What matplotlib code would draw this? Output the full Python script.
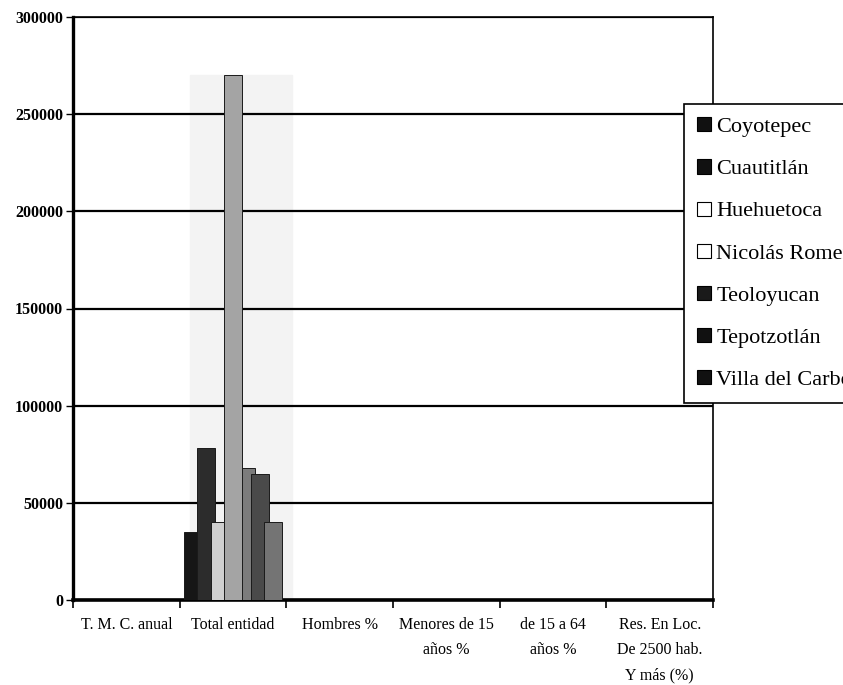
import numpy as np
import matplotlib.pyplot as plt
from matplotlib.patches import Patch

categories = ["T. M. C. anual", "Total entidad", "Hombres %",
              "Menores de 15\naños %", "de 15 a 64\naños %",
              "Res. En Loc.\nDe 2500 hab.\nY más (%)"]
municipios = ["Coyotepec", "Cuautitlán", "Huehuetoca", "Nicolás Romero",
              "Teoloyucan", "Tepotzotlán", "Villa del Carbón"]

# one list per municipality, in category order
coyotepec = [0, 35000, 0, 0, 0, 0]
cuautitlan = [0, 78000, 0, 0, 0, 0]
huehuetoca = [0, 40000, 0, 0, 0, 0]
nicolas_romero = [0, 270000, 0, 0, 0, 0]
teoloyucan = [0, 68000, 0, 0, 0, 0]
tepotzotlan = [0, 65000, 0, 0, 0, 0]
villa_carbon = [0, 40000, 0, 0, 0, 0]
series = [coyotepec, cuautitlan, huehuetoca, nicolas_romero,
          teoloyucan, tepotzotlan, villa_carbon]

bar_colors = ["#161616", "#2c2c2c", "#cfcfcf", "#a4a4a4",
              "#7c7c7c", "#4a4a4a", "#747474"]
legend_colors = ["#111111", "#111111", "white", "white",
                 "#1a1a1a", "#111111", "#111111"]

plt.rcParams['font.family'] = ['Liberation Serif', 'DejaVu Serif']

fig = plt.figure(figsize=(8.43, 6.85), dpi=100)
ax = fig.add_axes([73 / 843, 1 - 600 / 685, 640 / 843, 583 / 685])

x = np.arange(len(categories)) + 0.5
step = 0.125
width = 0.17

# faint shading behind the populated group
ax.axvspan(1.1, 2.05, ymin=0, ymax=0.9, color="#f3f3f3", zorder=0)

for i, (vals, col) in enumerate(zip(series, bar_colors)):
    offs = (i - 3) * step
    ax.bar(x + offs, vals, width=width, color=col, edgecolor="#1a1a1a",
           linewidth=0.7, zorder=3 + (i == 3))

ax.set_xlim(0, len(categories))
ax.set_ylim(0, 300000)
ax.set_yticks(np.arange(0, 300001, 50000))
ax.set_yticklabels([str(v) for v in range(0, 300001, 50000)],
                   fontsize=11.5, fontweight="bold")
ax.yaxis.grid(True, color="black", linewidth=1.6, zorder=1)
ax.set_axisbelow(True)

ax.set_xticks(x)
ax.set_xticklabels(categories, fontsize=11.5, linespacing=1.8, va="top")
ax.tick_params(axis="x", which="major", length=0, pad=12)
ax.set_xticks(np.arange(len(categories) + 1), minor=True)
ax.tick_params(axis="x", which="minor", length=6, width=1.2, direction="out")
ax.tick_params(axis="y", length=5, width=1.0, direction="out", pad=2)

for side in ["top", "right"]:
    ax.spines[side].set_linewidth(1.2)
ax.spines["left"].set_linewidth(2.4)
ax.spines["bottom"].set_linewidth(2.6)

handles = [Patch(facecolor=c, edgecolor="black", linewidth=0.8)
           for c in legend_colors]
leg = fig.legend(handles, municipios, loc="upper left",
                 bbox_to_anchor=(684 / 843, 1 - 104 / 685),
                 fontsize=16, frameon=True, fancybox=False,
                 handlelength=0.6, handleheight=0.6, handletextpad=0.25,
                 labelspacing=1.0, borderpad=0.6, borderaxespad=0)
leg.get_frame().set_edgecolor("black")
leg.get_frame().set_linewidth(1.2)
leg.get_frame().set_alpha(1)

fig.savefig("out.png", dpi=100)
